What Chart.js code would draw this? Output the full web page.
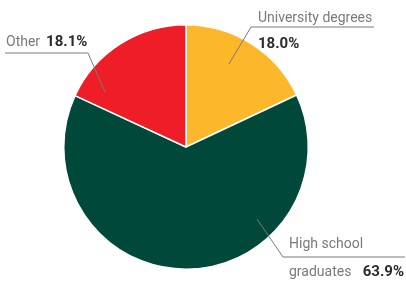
<!DOCTYPE html>
<html>
<head>
<meta charset="utf-8">
<script src="https://cdn.jsdelivr.net/npm/chart.js@4"></script>
<style>
  html, body { margin: 0; padding: 0; background: #fff; }
  #wrap { width: 406px; height: 282px; }
</style>
</head>
<body>
<div id="wrap"><canvas id="pieChart"></canvas></div>
<script>
// Education level shares (%)
const categories = ['University degrees', 'High school graduates', 'Other'];
const shares = [18.0, 63.9, 18.1];
const shareLabels = ['18.0%', '63.9%', '18.1%'];
const sliceColors = ['#FDB72A', '#00483A', '#EE1D27'];

const FONT = 'Roboto, "Noto Sans", sans-serif';

// Draws the callout labels with their leader lines
const calloutPlugin = {
    id: 'callouts',
    afterDraw(chart) {
        const ctx = chart.ctx;
        const arcs = chart.getDatasetMeta(0).data;
        const cx = arcs[0].x, cy = arcs[0].y;
        ctx.save();
        ctx.strokeStyle = '#7a7a7a';
        ctx.lineWidth = 1;
        ctx.textBaseline = 'alphabetic';

        // leader line: point inside slice -> elbow -> end of underline
        function leader(ax, ay, ex, ey, lx) {
            ctx.beginPath();
            ctx.moveTo(cx + ax, cy + ay);
            ctx.lineTo(ex, ey);
            ctx.lineTo(lx, ey);
            ctx.stroke();
        }

        // University degrees
        leader(43, -83, 251, 27, 374);
        ctx.font = '14px ' + FONT;
        ctx.fillStyle = '#7a7a7a';
        ctx.textAlign = 'left';
        ctx.fillText(categories[0], 258, 22);
        ctx.font = 'bold 15px ' + FONT;
        ctx.fillStyle = '#2b2b2b';
        ctx.fillText(shareLabels[0], 258, 48);

        // Other
        leader(-81, -55, 88, 53, 5);
        ctx.font = '14px ' + FONT;
        ctx.fillStyle = '#7a7a7a';
        ctx.fillText(categories[2], 6, 46);
        const w = ctx.measureText(categories[2]).width + 6;
        ctx.font = 'bold 15px ' + FONT;
        ctx.fillStyle = '#2b2b2b';
        ctx.fillText(shareLabels[2], 6 + w, 46);

        // High school graduates
        leader(71, 72, 283, 257, 405);
        ctx.font = '14px ' + FONT;
        ctx.fillStyle = '#7a7a7a';
        ctx.fillText('High school', 289, 248);
        ctx.fillText('graduates', 289, 276);
        ctx.font = 'bold 15px ' + FONT;
        ctx.fillStyle = '#2b2b2b';
        ctx.textAlign = 'right';
        ctx.fillText(shareLabels[1], 404, 276);

        ctx.restore();
    }
};

const ctx = document.getElementById('pieChart').getContext('2d');
const pieChart = new Chart(ctx, {
    type: 'pie',
    data: {
        labels: categories,
        datasets: [{
            data: shares,
            backgroundColor: sliceColors,
            borderColor: '#ffffff',
            borderWidth: 1.5
        }]
    },
    options: {
        responsive: true,
        maintainAspectRatio: false,
        animation: false,
        layout: {
            padding: { left: 63, right: 97, top: 24, bottom: 12 }
        },
        plugins: {
            legend: { display: false },
            tooltip: { enabled: false }
        }
    },
    plugins: [calloutPlugin]
});
</script>
</body>
</html>
